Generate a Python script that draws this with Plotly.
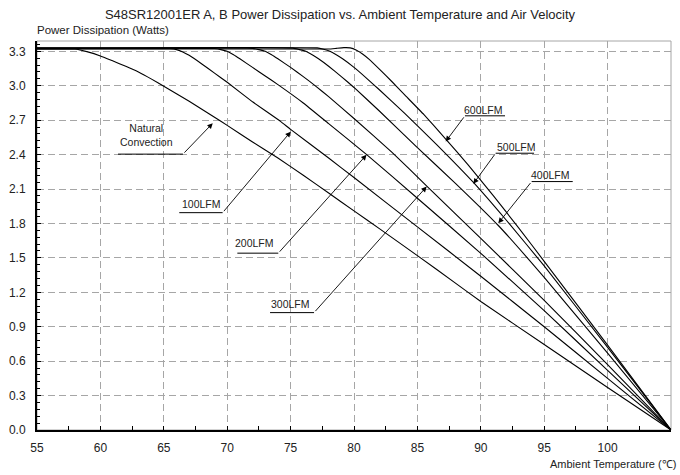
import plotly.graph_objects as go

# Power dissipation (W) vs ambient temperature (degC) for each airflow condition
nc_t = [55, 58, 59, 60, 61, 62, 63, 64, 65, 66, 67, 68, 69, 70, 72, 74, 76, 78, 80, 82, 85, 88, 90, 95, 100, 105]
nc_p = [3.32, 3.32, 3.295, 3.26, 3.215, 3.17, 3.12, 3.06, 2.995, 2.93, 2.865, 2.795, 2.725, 2.655,
        2.51, 2.37, 2.22, 2.065, 1.91, 1.755, 1.52, 1.28, 1.12, 0.745, 0.37, 0]

lfm100_t = [55, 65.5, 66, 66.5, 67, 68, 69, 70, 72, 74.2, 75, 78, 80, 85, 90, 95, 100, 105]
lfm100_p = [3.322, 3.322, 3.315, 3.295, 3.265, 3.19, 3.11, 3.03, 2.86, 2.69, 2.62, 2.37, 2.20,
            1.77, 1.34, 0.90, 0.45, 0]

lfm200_t = [55, 69, 69.5, 70, 70.5, 71, 72, 73, 74, 76, 78, 81, 85, 90, 95, 100, 105]
lfm200_p = [3.324, 3.324, 3.315, 3.30, 3.27, 3.235, 3.16, 3.085, 3.01, 2.85, 2.67, 2.40, 2.02,
            1.54, 1.04, 0.52, 0]

lfm300_t = [55, 72, 72.5, 73, 73.5, 74, 75, 76, 77, 78, 80, 83, 85.7, 90, 95, 100, 105]
lfm300_p = [3.326, 3.326, 3.315, 3.30, 3.27, 3.235, 3.16, 3.08, 2.995, 2.905, 2.715, 2.42, 2.13,
            1.67, 1.13, 0.57, 0]

lfm400_t = [55, 75.2, 75.7, 76.2, 76.7, 77.2, 78, 79, 80, 82, 85, 88, 91.4, 95, 100, 105]
lfm400_p = [3.328, 3.328, 3.315, 3.30, 3.27, 3.235, 3.17, 3.08, 2.985, 2.78, 2.46, 2.15, 1.78,
            1.33, 0.67, 0]

lfm500_t = [55, 77.1, 77.6, 78.1, 78.6, 79.1, 80, 81, 82, 84, 86.5, 89.4, 92, 95, 100, 105]
lfm500_p = [3.33, 3.33, 3.318, 3.30, 3.27, 3.235, 3.16, 3.065, 2.965, 2.76, 2.49, 2.16, 1.83,
            1.43, 0.72, 0]

lfm600_t = [55, 78, 78.6, 79.2, 79.7, 80.2, 80.7, 81.2, 82, 83, 84, 85.5, 87.2, 89, 91, 93, 95, 100, 105]
lfm600_p = [3.32, 3.32, 3.326, 3.332, 3.33, 3.31, 3.275, 3.23, 3.145, 3.035, 2.92, 2.75, 2.54,
            2.31, 2.04, 1.76, 1.47, 0.74, 0]

x_ticks = [55, 60, 65, 70, 75, 80, 85, 90, 95, 100, 105]
y_ticks = [0.0, 0.3, 0.6, 0.9, 1.2, 1.5, 1.8, 2.1, 2.4, 2.7, 3.0, 3.3]

curves = [
    (nc_t, nc_p), (lfm100_t, lfm100_p), (lfm200_t, lfm200_p), (lfm300_t, lfm300_p),
    (lfm400_t, lfm400_p), (lfm500_t, lfm500_p), (lfm600_t, lfm600_p),
]

FONT = "Arial, Liberation Sans, sans-serif"
GRID = "#a6a6a6"
TXT = "#222"

fig = go.Figure()
for t, p in curves:
    fig.add_trace(go.Scatter(
        x=t, y=p, mode="lines",
        line=dict(color="black", width=1.1, shape="spline", smoothing=0.3),
        showlegend=False, hoverinfo="skip",
    ))

# Callout labels: (text, text position, underline span, underline height, arrow tip, arrow start x)
callouts = [
    ("Natural<br>Convection", (63.67, 2.57), (61.39, 66.51), 2.404, (68.86, 2.674), 66.51),
    ("100LFM", (68.01, 1.97), (66.22, 69.64), 1.894, (75.01, 2.60), 69.64),
    ("200LFM", (72.19, 1.628), (70.80, 74.03), 1.541, (80.99, 2.398), 74.03),
    ("300LFM", (75.03, 1.096), (73.38, 76.85), 1.023, (85.73, 2.121), 76.85),
    ("600LFM", (90.25, 2.79), (88.75, 91.91), 2.738, (87.23, 2.514), 88.75),
    ("500LFM", (92.78, 2.47), (91.17, 94.20), 2.412, (89.41, 2.145), 91.17),
    ("400LFM", (95.46, 2.226), (94.01, 97.25), 2.165, (91.38, 1.802), 94.01),
]

shapes = [
    dict(type="rect", xref="paper", yref="paper", x0=0, y0=0, x1=1, y1=1,
         line=dict(color=GRID, width=1), layer="below"),
]
annotations = []
for text, (tx, ty), (u0, u1), uy, (hx, hy), ax in callouts:
    shapes.append(dict(type="line", xref="x", yref="y", x0=u0, x1=u1, y0=uy, y1=uy,
                       line=dict(color="black", width=1)))
    annotations.append(dict(x=tx, y=ty, xref="x", yref="y", text=text, showarrow=False,
                            font=dict(family=FONT, size=10.5, color=TXT)))
    annotations.append(dict(x=hx, y=hy, xref="x", yref="y", ax=ax, ay=uy,
                            axref="x", ayref="y", text="", showarrow=True,
                            arrowhead=2, arrowsize=1.2, arrowwidth=0.9, arrowcolor="black"))

annotations.append(dict(text="Power Dissipation (Watts)", xref="paper", yref="paper",
                        x=0, xshift=-2, y=1.0, yshift=11, xanchor="left", yanchor="middle",
                        showarrow=False, font=dict(family=FONT, size=11.5, color=TXT)))
annotations.append(dict(text="Ambient Temperature (℃)", xref="paper", yref="paper",
                        x=1.0, xshift=7, y=0, yshift=-34, xanchor="right", yanchor="middle",
                        showarrow=False, font=dict(family=FONT, size=11, color=TXT)))

fig.update_layout(
    width=680, height=475,
    margin=dict(l=37, r=9, t=41, b=45),
    paper_bgcolor="white", plot_bgcolor="white",
    title=dict(text="S48SR12001ER A, B Power Dissipation vs. Ambient Temperature and Air Velocity",
               x=0.5, xanchor="center", y=0.97, yanchor="middle",
               font=dict(family=FONT, size=13, color=TXT)),
    xaxis=dict(
        range=[55, 105], tickmode="array", tickvals=x_ticks,
        ticktext=[str(v) for v in x_ticks], automargin=False,
        showline=True, linecolor="black", linewidth=2,
        ticks="inside", ticklen=4, tickcolor="black", ticklabelstandoff=6,
        minor=dict(dtick=2.5, tick0=55, ticks="inside", ticklen=4, tickcolor="black", showgrid=False),
        showgrid=True, gridcolor=GRID, griddash="7px,4px", gridwidth=1,
        zeroline=False, tickfont=dict(family=FONT, size=12, color=TXT),
    ),
    yaxis=dict(
        range=[0, 3.39], tickmode="array", tickvals=y_ticks,
        ticktext=[f"{v:.1f}" for v in y_ticks], automargin=False,
        showline=True, linecolor="black", linewidth=2,
        ticks="inside", ticklen=4, tickcolor="black", ticklabelstandoff=7,
        minor=dict(dtick=0.06, tick0=0, ticks="inside", ticklen=3, tickcolor="black", showgrid=False),
        showgrid=True, gridcolor=GRID, griddash="7px,4px", gridwidth=1,
        zeroline=False, tickfont=dict(family=FONT, size=12, color=TXT),
    ),
    shapes=shapes, annotations=annotations,
)

fig.write_html("out.html")
